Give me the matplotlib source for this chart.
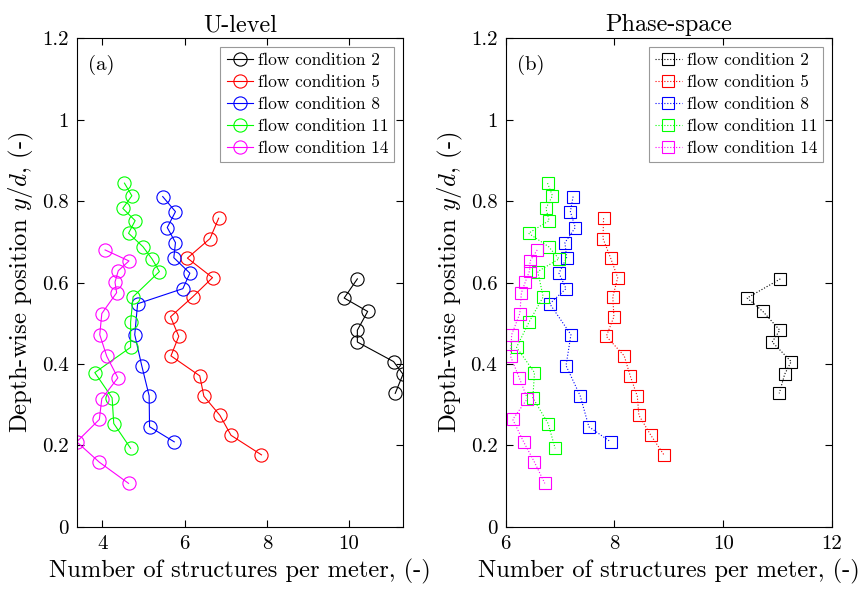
import matplotlib
matplotlib.use("Agg")
import matplotlib.pyplot as plt
from matplotlib.ticker import FuncFormatter

plt.rcParams["font.family"] = "serif"
plt.rcParams["font.serif"] = ["cmr10"]
plt.rcParams["mathtext.fontset"] = "cm"
plt.rcParams["axes.formatter.use_mathtext"] = True

# ---- data: depth positions y/d per flow condition ----
conditions = ["flow condition 2", "flow condition 5", "flow condition 8",
              "flow condition 11", "flow condition 14"]
colors = ["#000000", "#ff0000", "#0000ff", "#00ff00", "#ff00ff"]

y_fc2 = [0.609, 0.562, 0.529, 0.483, 0.454, 0.406, 0.375, 0.328]
y_fc5 = [0.758, 0.708, 0.660, 0.612, 0.565, 0.516, 0.468, 0.420, 0.371,
         0.321, 0.274, 0.225, 0.177]
y_fc8 = [0.811, 0.774, 0.735, 0.698, 0.661, 0.623, 0.585, 0.548, 0.472,
         0.396, 0.322, 0.246, 0.209]
y_fc11 = [0.844, 0.813, 0.782, 0.752, 0.721, 0.688, 0.658, 0.627, 0.565,
          0.503, 0.441, 0.379, 0.317, 0.254, 0.193]
y_fc14 = [0.680, 0.653, 0.629, 0.601, 0.575, 0.524, 0.472, 0.419, 0.366,
          0.315, 0.264, 0.209, 0.159, 0.107]

# (a) U-level: structures per meter
ul_fc2 = [10.20, 9.88, 10.45, 10.20, 10.20, 11.08, 11.31, 11.12]
ul_fc5 = [6.83, 6.62, 6.07, 6.68, 6.20, 5.66, 5.86, 5.67, 6.37, 6.47, 6.86,
          7.13, 7.87]
ul_fc8 = [5.47, 5.78, 5.58, 5.78, 5.74, 6.13, 5.96, 4.86, 4.79, 4.96, 5.14,
          5.15, 5.75]
ul_fc11 = [4.54, 4.72, 4.50, 4.80, 4.64, 4.99, 5.21, 5.39, 4.75, 4.69, 4.69,
           3.82, 4.24, 4.28, 4.69]
ul_fc14 = [4.07, 4.65, 4.39, 4.31, 4.35, 3.99, 3.94, 4.11, 4.38, 3.99, 3.93,
           3.38, 3.93, 4.64]

# (b) Phase-space: structures per meter
ps_fc2 = [11.05, 10.44, 10.73, 11.04, 10.90, 11.25, 11.13, 11.03]
ps_fc5 = [7.80, 7.79, 7.93, 8.06, 7.97, 7.99, 7.85, 8.18, 8.29, 8.42, 8.45,
          8.67, 8.91]
ps_fc8 = [7.24, 7.19, 7.28, 7.09, 7.12, 6.98, 7.11, 6.81, 7.20, 7.11, 7.37,
          7.53, 7.93]
ps_fc11 = [6.77, 6.86, 6.74, 6.80, 6.42, 6.79, 6.98, 6.59, 6.69, 6.43, 6.20,
           6.53, 6.50, 6.78, 6.91]
ps_fc14 = [6.58, 6.45, 6.44, 6.36, 6.29, 6.26, 6.11, 6.09, 6.25, 6.40, 6.13,
           6.33, 6.53, 6.72]

y_all = [y_fc2, y_fc5, y_fc8, y_fc11, y_fc14]
ul_all = [ul_fc2, ul_fc5, ul_fc8, ul_fc11, ul_fc14]
ps_all = [ps_fc2, ps_fc5, ps_fc8, ps_fc11, ps_fc14]

fig = plt.figure(figsize=(8.61, 5.89), dpi=100)
ax1 = fig.add_axes([0.0891, 0.1053, 0.379, 0.830])
ax2 = fig.add_axes([0.5873, 0.1053, 0.379, 0.830])

for x, y, c, lab in zip(ul_all, y_all, colors, conditions):
    ax1.plot(x, y, "-", color=c, lw=0.8, marker="o", ms=9.5, mfc="none",
             mec=c, mew=0.8, label=lab)
for x, y, c, lab in zip(ps_all, y_all, colors, conditions):
    ax2.plot(x, y, ":", color=c, lw=0.8, marker="s", ms=8, mfc="none",
             mec=c, mew=0.8, label=lab)

xmin = min(min(v) for v in ul_all)
xmax = max(max(v) for v in ul_all)
ax1.set_xlim(xmin, xmax)
ax1.set_xticks([4, 6, 8, 10])
ax2.set_xlim(6, 12)
ax2.set_xticks([6, 8, 10, 12])

fmt = FuncFormatter(lambda v, p: f"{v:g}")
for ax, title, tag in [(ax1, "U-level", "(a)"), (ax2, "Phase-space", "(b)")]:
    ax.set_ylim(0, 1.2)
    ax.set_yticks([0, 0.2, 0.4, 0.6, 0.8, 1.0, 1.2])
    ax.yaxis.set_major_formatter(fmt)
    ax.xaxis.set_major_formatter(fmt)
    ax.tick_params(direction="in", top=True, right=True, length=5,
                   width=0.8, labelsize=15, pad=6)
    for s in ax.spines.values():
        s.set_linewidth(0.8)
    ax.set_title(title, fontsize=17.5, pad=5)
    ax.set_xlabel("Number of structures per meter, (-)", fontsize=17.6,
                  labelpad=4)
    ax.set_ylabel(r"Depth-wise position $y/d$, (-)", fontsize=17.8,
                  labelpad=4)
    ax.text(0.035, 0.965, tag, transform=ax.transAxes, fontsize=15,
            va="top", ha="left")
    leg = ax.legend(loc="upper right", fontsize=12.5, handlelength=1.5,
                    handletextpad=0.3, borderpad=0.35, labelspacing=0.38,
                    fancybox=False, framealpha=1, borderaxespad=0.5)
    leg.get_frame().set_edgecolor("#999999")
    leg.get_frame().set_linewidth(0.8)

fig.savefig("out.png", dpi=100)
